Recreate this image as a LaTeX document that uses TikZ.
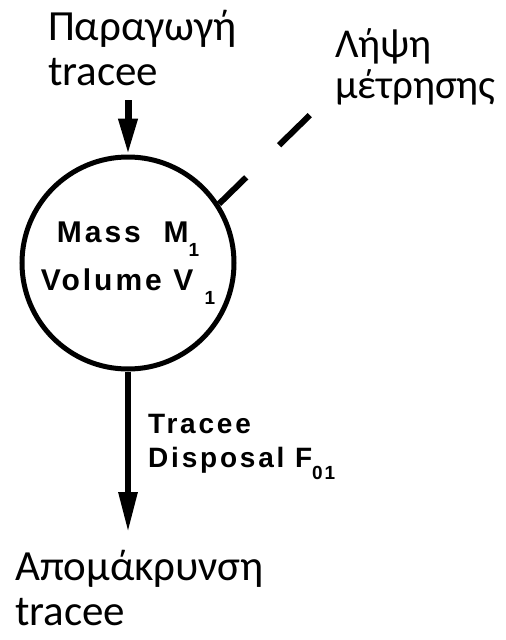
\documentclass[tikz,border=0pt]{standalone}
\usepackage{fontspec}
\setmainfont{Carlito}
\newfontfamily\plotfont[LetterSpace=10]{Liberation Sans Bold}
\usepackage{tikz}
\usetikzlibrary{arrows.meta, positioning}
\newcommand{\lowsub}[1]{\raisebox{-0.45em}{\fontsize{19}{19}\selectfont #1}}

\begin{document}
\begin{tikzpicture}[x=1pt, y=-1pt,
    greek/.style={anchor=base west, align=left, inner sep=0pt, font=\fontsize{43}{45}\selectfont},
    oldlbl/.style={align=left, inner sep=0pt, font=\plotfont\fontsize{28}{34}\selectfont}]
  \useasboundingbox (0,0) rectangle (506,640);
  % compartment
  \node[draw, circle, line width=5pt, minimum size=212pt, inner sep=0pt, align=center,
        font=\plotfont\fontsize{30}{48}\selectfont] (pool) at (128,263)
        {Mass\ \ M\lowsub{1}\\Volume\ V\ \lowsub{1}};
  % labels (base = last line)
  \node[greek] (srcLbl) at (48,85) {Παραγωγή\\tracee};
  \node[greek, font=\fontsize{41}{41}\selectfont] (probeLbl) at (335,98) {Λήψη\\μέτρησης};
  \node[greek] (sinkLbl) at (15,625) {Απομάκρυνση\\tracee};
  \node[oldlbl, anchor=base west] (flowLbl) at (148,467) {Tracee\\Disposal\ F\lowsub{01}};
  % in, out and sampling
  \coordinate (inTop) at (128,100);
  \coordinate (outTip) at (128,532);
  \coordinate (probe) at (311,114);
  \draw[line width=7pt, -{Triangle[length=36pt, width=18pt]}] (inTop) -- (pool.north);
  \draw[line width=6pt, -{Triangle[length=40pt, width=18pt]}] (pool.south) -- (outTip);
  \draw[line width=6pt, dash pattern=on 38pt off 46pt on 43pt off 100pt] (pool.33) -- (probe);
\end{tikzpicture}
\end{document}
